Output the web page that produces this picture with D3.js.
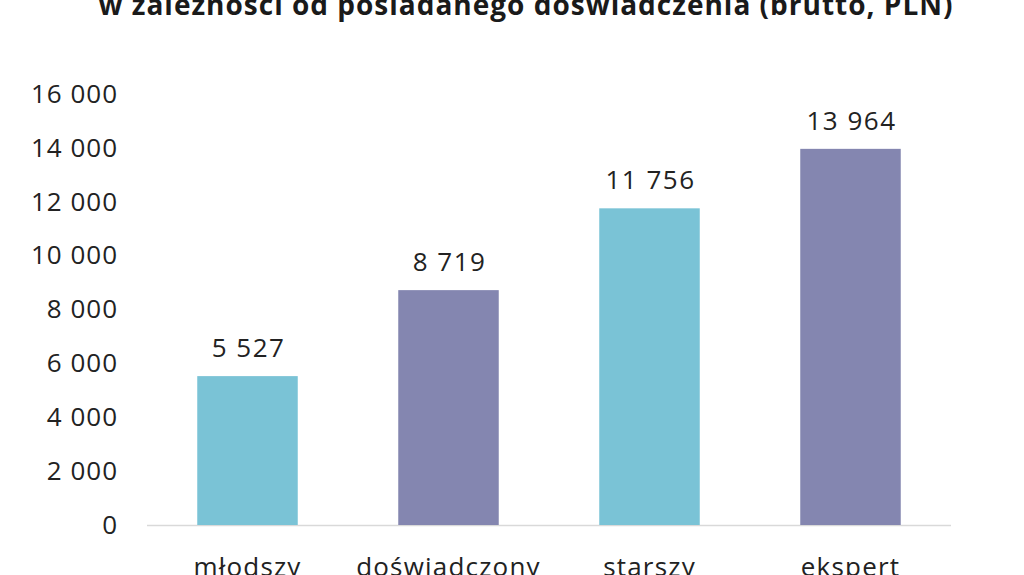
<!DOCTYPE html>
<html>
<head>
<meta charset="utf-8">
<script src="https://cdn.jsdelivr.net/npm/d3@7"></script>
<style>
  body { margin: 0; background: #fff; }
  text { font-family: "Open Sans", sans-serif; }
</style>
</head>
<body>
<div id="chart"></div>
<script>
var categories = ["młodszy", "doświadczony", "starszy", "ekspert"];
var values = [5527, 8719, 11756, 13964];
var tickValues = [0, 2000, 4000, 6000, 8000, 10000, 12000, 14000, 16000];
var barColors = ["#7ac3d6", "#8486b0", "#7ac3d6", "#8486b0"];
var title = "w zależności od posiadanego doświadczenia (brutto, PLN)";

var w = 1024;
var h = 575;

var fmt = function (v) {
    return d3.format(",")(v).replace(/,/g, " ");
};

var svg = d3.select("#chart")
        .append("svg")
        .attr("width", w)
        .attr("height", h);

var x = d3.scaleBand()
        .domain(categories)
        .range([147, 951])
        .paddingInner(0.5)
        .paddingOuter(0.25);

var y = d3.scaleLinear()
        .domain([0, 16000])
        .range([525, 94]);

svg.append("text")
    .attr("x", 526)
    .attr("y", 15)
    .attr("text-anchor", "middle")
    .attr("font-size", 28)
    .attr("font-weight", "bold")
    .attr("letter-spacing", 1)
    .attr("fill", "#1a1a1a")
    .text(title);

var yAxis = svg.append("g")
    .attr("transform", "translate(147,0)")
    .call(d3.axisLeft(y).tickValues(tickValues).tickFormat(fmt).tickSize(0).tickPadding(29));
yAxis.select(".domain").remove();
yAxis.selectAll("text")
    .attr("font-size", 26)
    .attr("letter-spacing", 1)
    .attr("fill", "#222");

svg.append("line")
    .attr("x1", 147)
    .attr("x2", 951)
    .attr("y1", y(0) + 0.5)
    .attr("y2", y(0) + 0.5)
    .attr("stroke", "#d9d9d9")
    .attr("stroke-width", 1.5);

svg.selectAll("rect")
    .data(values)
    .enter()
    .append("rect")
    .attr("x", function (d, i) { return x(categories[i]); })
    .attr("y", function (d) { return y(d); })
    .attr("width", x.bandwidth())
    .attr("height", function (d) { return y(0) - y(d); })
    .attr("fill", function (d, i) { return barColors[i]; });

svg.selectAll(".val")
    .data(values)
    .enter()
    .append("text")
    .attr("class", "val")
    .attr("x", function (d, i) { return x(categories[i]) + x.bandwidth() / 2 + 1; })
    .attr("y", function (d) { return y(d) - 19; })
    .attr("text-anchor", "middle")
    .attr("font-size", 26)
    .attr("letter-spacing", 1.5)
    .attr("fill", "#222")
    .text(fmt);

var xAxis = svg.append("g")
    .attr("transform", "translate(0," + y(0) + ")")
    .call(d3.axisBottom(x).tickSize(0).tickPadding(33));
xAxis.select(".domain").remove();
xAxis.selectAll("text")
    .attr("font-size", 26)
    .attr("letter-spacing", 1.2)
    .attr("fill", "#222");
</script>
</body>
</html>
